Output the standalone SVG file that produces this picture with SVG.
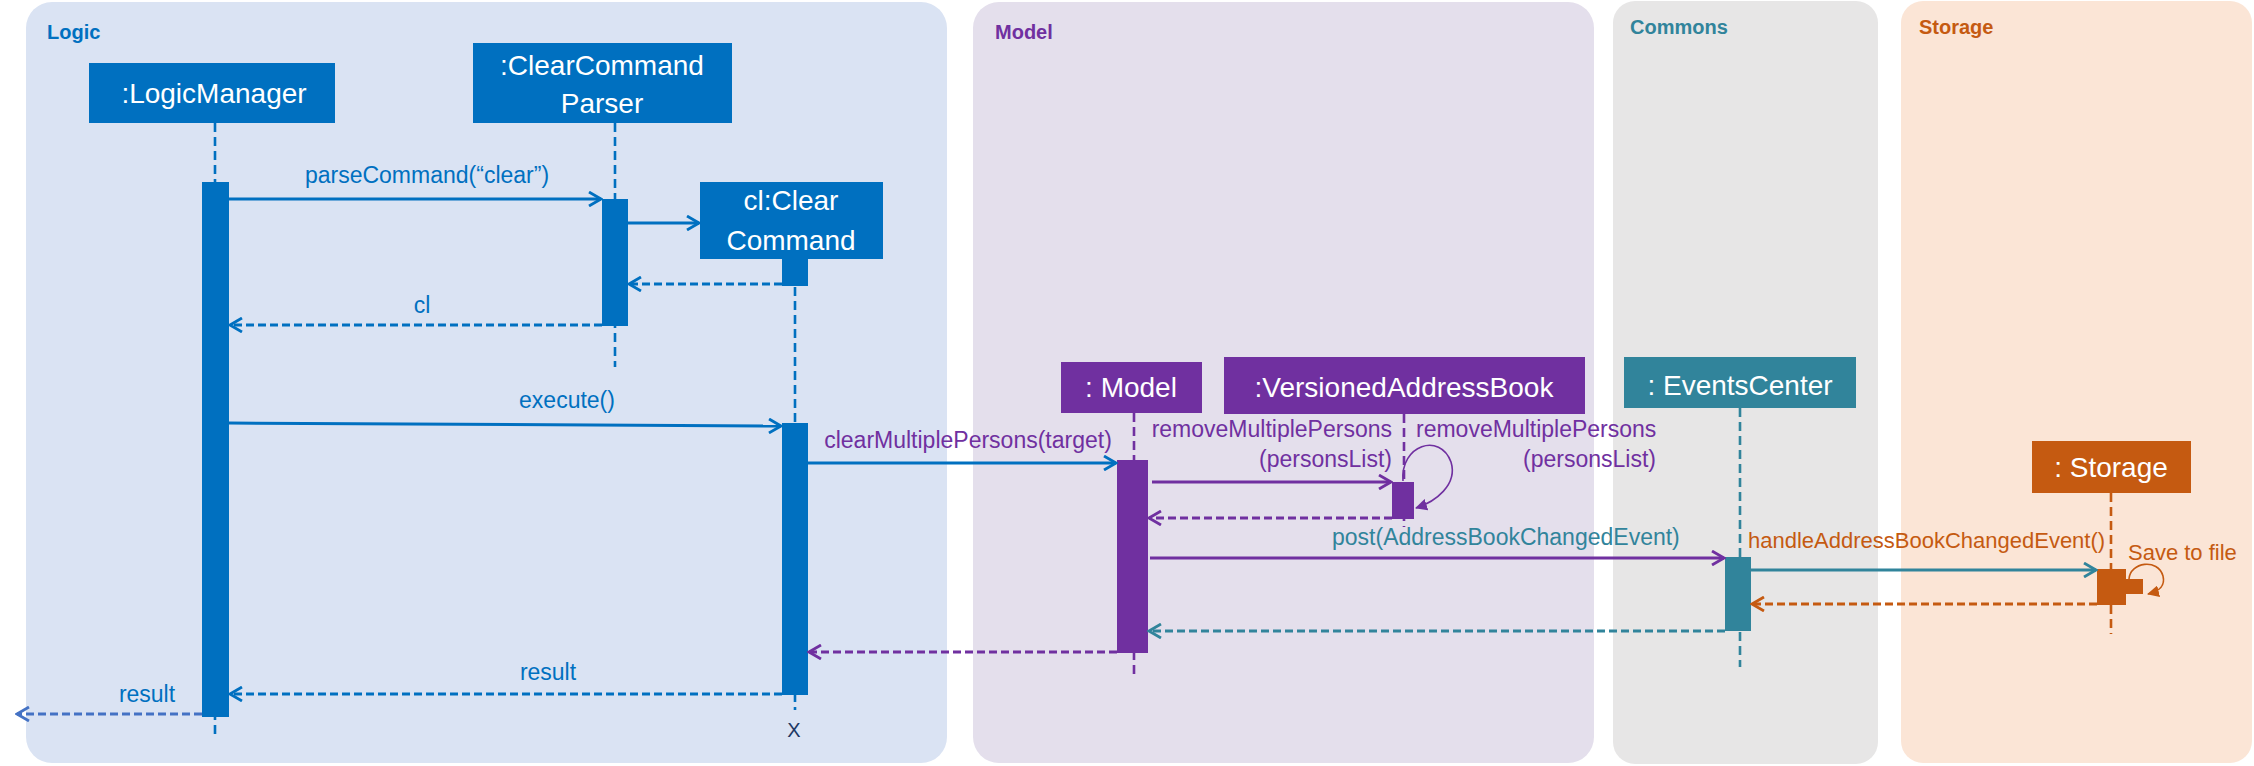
<svg xmlns="http://www.w3.org/2000/svg" width="2254" height="766" viewBox="0 0 2254 766">
<style>
text{font-family:"Liberation Sans",Arial,sans-serif}
.title{font-size:20px;font-weight:bold}
.bx{font-size:28px;fill:#FFFFFF;text-anchor:middle}
.lb{font-size:23px}
.mid{text-anchor:middle}
.end{text-anchor:end}
.ll{stroke-width:2.6;stroke-dasharray:9 5;fill:none}
.call{stroke-width:3;fill:none}
.ret{stroke-width:3;stroke-dasharray:8 4;fill:none}
.self{stroke-width:1.6;fill:none}
.blue{stroke:#0070C0}
.purple{stroke:#7030A0}
.teal{stroke:#31849B}
.orange{stroke:#C55A11}
.lblue{stroke:#4472C4}
</style>
<defs>
<marker id="aBlue" viewBox="0 0 16 16" refX="14" refY="8" markerWidth="16" markerHeight="16" markerUnits="userSpaceOnUse" orient="auto"><path d="M2,1 L14,8 L2,15" fill="none" stroke="#0070C0" stroke-width="2.8"/></marker>
<marker id="aPurple" viewBox="0 0 16 16" refX="14" refY="8" markerWidth="16" markerHeight="16" markerUnits="userSpaceOnUse" orient="auto"><path d="M2,1 L14,8 L2,15" fill="none" stroke="#7030A0" stroke-width="2.8"/></marker>
<marker id="aTeal" viewBox="0 0 16 16" refX="14" refY="8" markerWidth="16" markerHeight="16" markerUnits="userSpaceOnUse" orient="auto"><path d="M2,1 L14,8 L2,15" fill="none" stroke="#31849B" stroke-width="2.8"/></marker>
<marker id="aOrange" viewBox="0 0 16 16" refX="14" refY="8" markerWidth="16" markerHeight="16" markerUnits="userSpaceOnUse" orient="auto"><path d="M2,1 L14,8 L2,15" fill="none" stroke="#C55A11" stroke-width="2.8"/></marker>
<marker id="aLBlue" viewBox="0 0 16 16" refX="14" refY="8" markerWidth="16" markerHeight="16" markerUnits="userSpaceOnUse" orient="auto"><path d="M2,1 L14,8 L2,15" fill="none" stroke="#4472C4" stroke-width="2.8"/></marker>
<marker id="fPurple" viewBox="0 0 12 12" refX="11" refY="6" markerWidth="12" markerHeight="12" markerUnits="userSpaceOnUse" orient="auto"><path d="M0,0 L12,6 L0,12 z" fill="#7030A0"/></marker>
<marker id="fOrange" viewBox="0 0 12 12" refX="11" refY="6" markerWidth="12" markerHeight="12" markerUnits="userSpaceOnUse" orient="auto"><path d="M0,0 L12,6 L0,12 z" fill="#C55A11"/></marker>
</defs>
<rect width="2254" height="766" fill="#FFFFFF"/>
<g id="panels">
<rect x="26" y="2" width="921" height="761" rx="26" fill="#DAE3F3"/>
<text class="title" x="47" y="39" fill="#0070C0">Logic</text>
<rect x="973" y="2" width="621" height="761" rx="26" fill="#E4DFEC"/>
<text class="title" x="995" y="39" fill="#7030A0">Model</text>
<rect x="1613" y="1" width="265" height="763" rx="22" fill="#E7E6E6"/>
<text class="title" x="1630" y="34" fill="#31849B">Commons</text>
<rect x="1901" y="1" width="351" height="762" rx="22" fill="#FBE5D6"/>
<text class="title" x="1919" y="34" fill="#C55A11">Storage</text>
</g>
<g id="logicManager">
<line class="ll blue" x1="215" y1="123" x2="215" y2="737"/>
<rect x="89" y="63" width="246" height="60" fill="#0070C0"/>
<text class="bx" x="214" y="103">:LogicManager</text>
<rect x="202" y="182" width="27" height="535" fill="#0070C0"/>
</g>
<g id="clearCommandParser">
<line class="ll blue" x1="615" y1="123" x2="615" y2="367"/>
<rect x="473" y="43" width="259" height="80" fill="#0070C0"/>
<text class="bx" x="602" y="75">:ClearCommand</text>
<text class="bx" x="602" y="113">Parser</text>
<rect x="602" y="199" width="26" height="127" fill="#0070C0"/>
</g>
<g id="clearCommand">
<line class="ll blue" x1="795" y1="259" x2="795" y2="710"/>
<rect x="700" y="182" width="183" height="77" fill="#0070C0"/>
<text class="bx" x="791" y="210">cl:Clear</text>
<text class="bx" x="791" y="250">Command</text>
<rect x="782" y="259" width="26" height="27" fill="#0070C0"/>
<rect x="782" y="423" width="26" height="272" fill="#0070C0"/>
<text x="794" y="737" font-size="20" fill="#203864" text-anchor="middle">X</text>
</g>
<g id="model">
<line class="ll purple" x1="1134" y1="413" x2="1134" y2="675"/>
<rect x="1061" y="362" width="141" height="51" fill="#7030A0"/>
<text class="bx" x="1131" y="397">: Model</text>
<rect x="1117" y="460" width="31" height="193" fill="#7030A0"/>
</g>
<g id="versionedAddressBook">
<line class="ll purple" x1="1404" y1="414" x2="1404" y2="527"/>
<rect x="1224" y="357" width="361" height="57" fill="#7030A0"/>
<text class="bx" x="1404" y="397">:VersionedAddressBook</text>
<rect x="1392" y="482" width="22" height="37" fill="#7030A0"/>
</g>
<g id="eventsCenter">
<line class="ll teal" x1="1740" y1="408" x2="1740" y2="667"/>
<rect x="1624" y="357" width="232" height="51" fill="#31849B"/>
<text class="bx" x="1740" y="395">: EventsCenter</text>
<rect x="1725" y="557" width="26" height="74" fill="#31849B"/>
</g>
<g id="storage">
<line class="ll orange" x1="2111" y1="493" x2="2111" y2="634"/>
<rect x="2032" y="441" width="159" height="52" fill="#C55A11"/>
<text class="bx" x="2111" y="477">: Storage</text>
<rect x="2097" y="569" width="29" height="36" fill="#C55A11"/>
<rect x="2125" y="579" width="18" height="15" fill="#C55A11"/>
</g>
<g id="connectors">
<line class="call blue" x1="229" y1="199" x2="601" y2="199" marker-end="url(#aBlue)"/>
<text class="lb mid" x="427" y="183" fill="#0070C0">parseCommand(“clear”)</text>
<line class="call blue" x1="628" y1="223" x2="699" y2="223" marker-end="url(#aBlue)"/>
<line class="ret blue" x1="782" y1="284" x2="629" y2="284" marker-end="url(#aBlue)"/>
<line class="ret blue" x1="602" y1="325" x2="230" y2="325" marker-end="url(#aBlue)"/>
<text class="lb mid" x="422" y="313" fill="#0070C0">cl</text>
<line class="call blue" x1="229" y1="423" x2="781" y2="426" marker-end="url(#aBlue)"/>
<text class="lb mid" x="567" y="408" fill="#0070C0">execute()</text>
<line class="call blue" x1="808" y1="463" x2="1116" y2="463" marker-end="url(#aBlue)"/>
<text class="lb mid" x="968" y="448" fill="#7030A0">clearMultiplePersons(target)</text>
<line class="call purple" x1="1152" y1="482" x2="1391" y2="482" marker-end="url(#aPurple)"/>
<text class="lb end" x="1392" y="437" fill="#7030A0">removeMultiplePersons</text>
<text class="lb end" x="1392" y="467" fill="#7030A0">(personsList)</text>
<path class="self purple" d="M1403,481 C1400,445 1440,432 1451,462 C1458,485 1435,502 1416,508" marker-end="url(#fPurple)"/>
<text class="lb" x="1416" y="437" fill="#7030A0">removeMultiplePersons</text>
<text class="lb end" x="1656" y="467" fill="#7030A0">(personsList)</text>
<line class="ret purple" x1="1392" y1="518" x2="1149" y2="518" marker-end="url(#aPurple)"/>
<line class="call purple" x1="1150" y1="558" x2="1724" y2="558" marker-end="url(#aPurple)"/>
<text class="lb" x="1332" y="545" fill="#31849B">post(AddressBookChangedEvent)</text>
<line class="call teal" x1="1751" y1="570" x2="2096" y2="570" marker-end="url(#aTeal)"/>
<text x="1748" y="548" font-size="22" fill="#C55A11">handleAddressBookChangedEvent()</text>
<path class="self orange" d="M2129,579 C2130,562 2158,558 2163,576 C2166,588 2156,592 2148,594" marker-end="url(#fOrange)"/>
<text x="2128" y="560" font-size="22" fill="#C55A11">Save to file</text>
<line class="ret orange" x1="2097" y1="604" x2="1752" y2="604" marker-end="url(#aOrange)"/>
<line class="ret teal" x1="1725" y1="631" x2="1149" y2="631" marker-end="url(#aTeal)"/>
<line class="ret purple" x1="1117" y1="652" x2="809" y2="652" marker-end="url(#aPurple)"/>
<line class="ret blue" x1="782" y1="694" x2="230" y2="694" marker-end="url(#aBlue)"/>
<text class="lb mid" x="548" y="680" fill="#0070C0">result</text>
<line class="ret lblue" x1="202" y1="714" x2="17" y2="714" marker-end="url(#aLBlue)"/>
<text class="lb mid" x="147" y="702" fill="#0070C0">result</text>
</g>
</svg>
